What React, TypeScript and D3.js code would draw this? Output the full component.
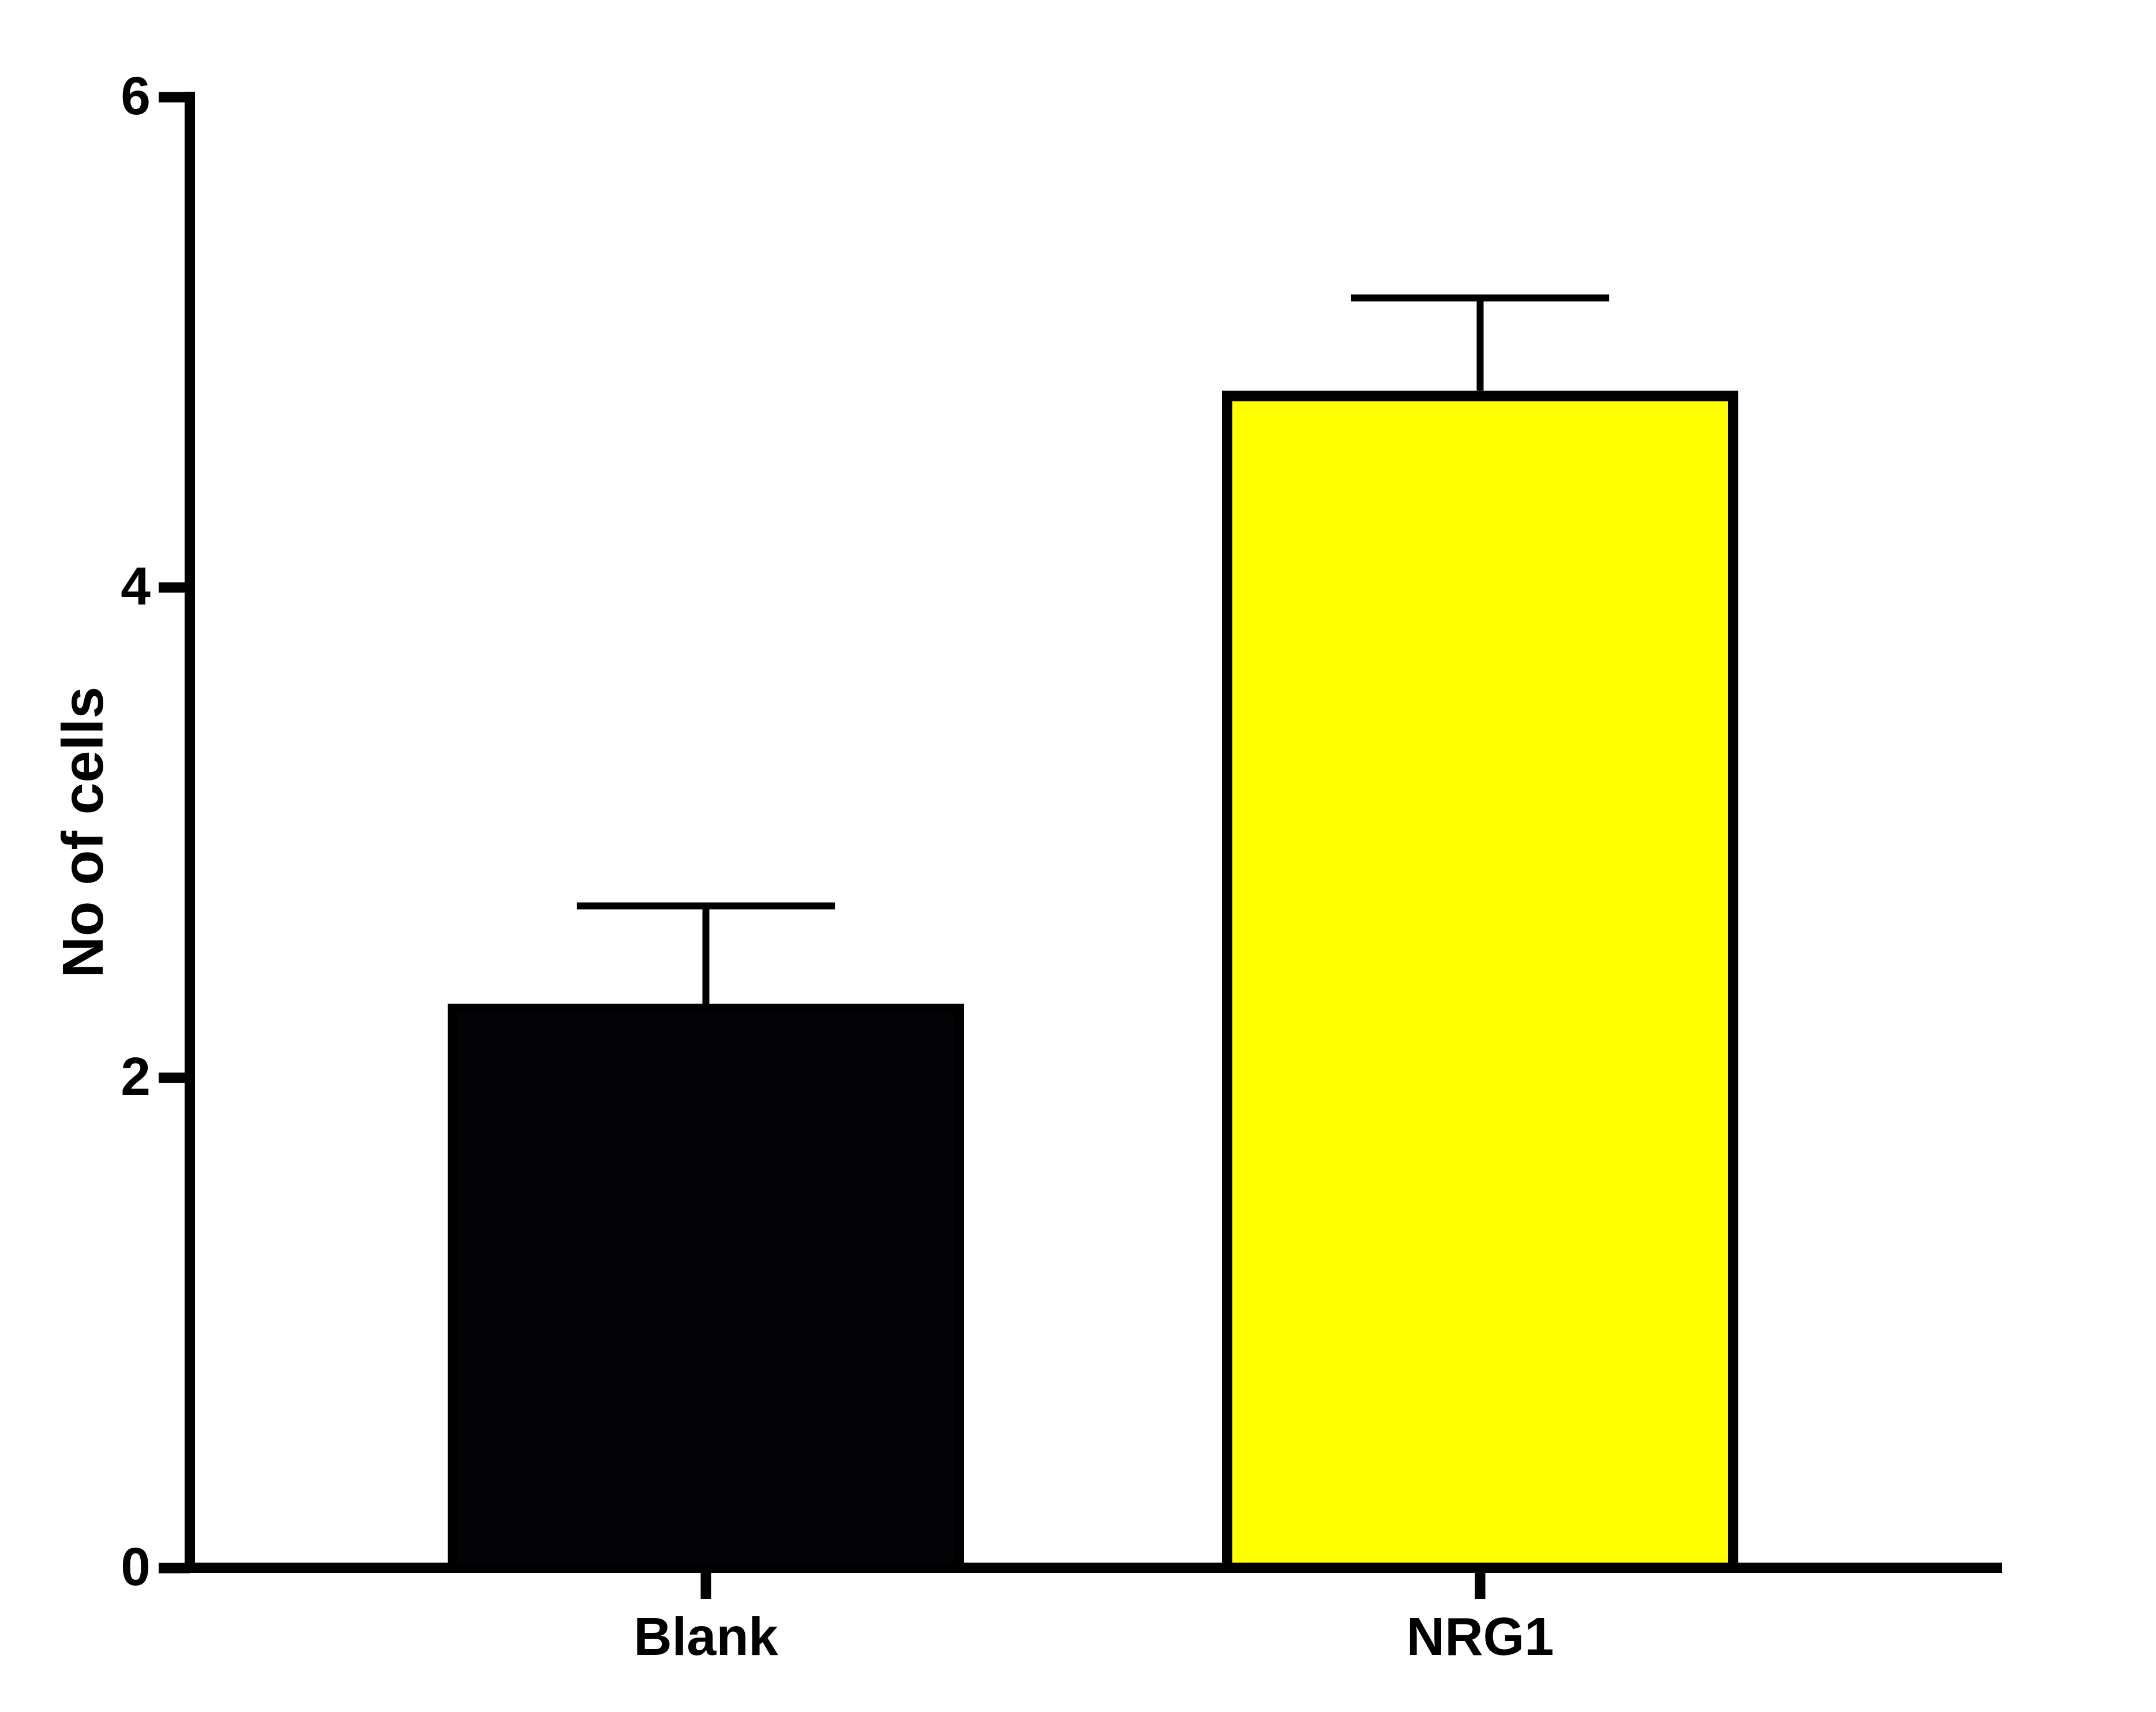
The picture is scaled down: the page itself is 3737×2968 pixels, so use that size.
import React, { useEffect, useRef } from 'react';
import * as d3 from 'd3';

// values
const categories = ['Blank', 'NRG1'];
const means = [2.28, 4.78];
const errors = [0.42, 0.4];
const fills = ['#030307', '#ffff00'];
const yTicks = [0, 2, 4, 6];
const yTitle = 'No of cells';

const W = 3737;
const H = 2968;
const FONT = '"Liberation Sans", Arial, Helvetica, sans-serif';

export default function App() {
  const svgRef = useRef<SVGSVGElement | null>(null);

  useEffect(() => {
    if (!svgRef.current) return;
    const svg = d3.select(svgRef.current);
    svg.selectAll('*').remove();

    const axisX = 329;      // y axis centre line
    const axisY = 2718;     // x axis centre line
    const lw = 18;          // axis / bar outline width

    const y = d3.scaleLinear().domain([0, 6]).range([axisY, 168]);
    const x = d3.scaleBand<string>()
      .domain(categories)
      .range([324, 3465])
      .paddingInner(0.3465)
      .paddingOuter(0.3435);

    const capW = x.bandwidth() * 0.51;

    // bars
    svg.append('g')
      .selectAll('rect')
      .data(categories)
      .enter()
      .append('rect')
      .attr('x', d => x(d)!)
      .attr('y', (d, i) => y(means[i]))
      .attr('width', x.bandwidth())
      .attr('height', (d, i) => y(0) - y(means[i]))
      .attr('fill', (d, i) => fills[i])
      .attr('stroke', '#000')
      .attr('stroke-width', lw);

    // error bars (upper only)
    const eb = svg.append('g').attr('stroke', '#000').attr('stroke-width', 12);
    categories.forEach((c, i) => {
      const cx = x(c)! + x.bandwidth() / 2;
      const top = y(means[i] + errors[i]);
      eb.append('line')
        .attr('x1', cx).attr('x2', cx)
        .attr('y1', y(means[i]) - lw / 2).attr('y2', top);
      eb.append('line')
        .attr('x1', cx - capW / 2).attr('x2', cx + capW / 2)
        .attr('y1', top).attr('y2', top);
    });

    // y axis
    const gy = svg.append('g')
      .attr('transform', `translate(${axisX},0)`)
      .call(d3.axisLeft(y).tickValues(yTicks).tickSize(54).tickPadding(14).tickFormat(d3.format('d')));
    gy.select('.domain').remove();
    gy.selectAll('.tick line').attr('stroke', '#000').attr('stroke-width', lw);
    gy.selectAll('.tick text')
      .attr('fill', '#000')
      .attr('font-size', 93)
      .attr('font-weight', 700)
      .attr('font-family', FONT);

    svg.append('line')
      .attr('x1', axisX).attr('x2', axisX)
      .attr('y1', y(6) - lw / 2).attr('y2', axisY + lw / 2)
      .attr('stroke', '#000').attr('stroke-width', lw);

    // x axis
    const gx = svg.append('g')
      .attr('transform', `translate(0,${axisY})`)
      .call(d3.axisBottom(x).tickSize(54).tickPadding(32));
    gx.select('.domain').remove();
    gx.selectAll('.tick line').attr('stroke', '#000').attr('stroke-width', lw);
    gx.selectAll('.tick text')
      .attr('fill', '#000')
      .attr('font-size', 92)
      .attr('font-weight', 700)
      .attr('font-family', FONT);

    svg.append('line')
      .attr('x1', axisX - lw / 2).attr('x2', 3470)
      .attr('y1', axisY).attr('y2', axisY)
      .attr('stroke', '#000').attr('stroke-width', lw);

    // y title
    svg.append('text')
      .attr('transform', `translate(178,${(y(0) + y(6)) / 2}) rotate(-90)`)
      .attr('text-anchor', 'middle')
      .attr('font-size', 100)
      .attr('font-weight', 700)
      .attr('font-family', FONT)
      .attr('fill', '#000')
      .text(yTitle);
  }, []);

  return (
    <div style={{ position: 'absolute', left: 0, top: 0, width: W, height: H, background: '#fff' }}>
      <svg ref={svgRef} width={W} height={H} style={{ display: 'block' }} />
    </div>
  );
}
